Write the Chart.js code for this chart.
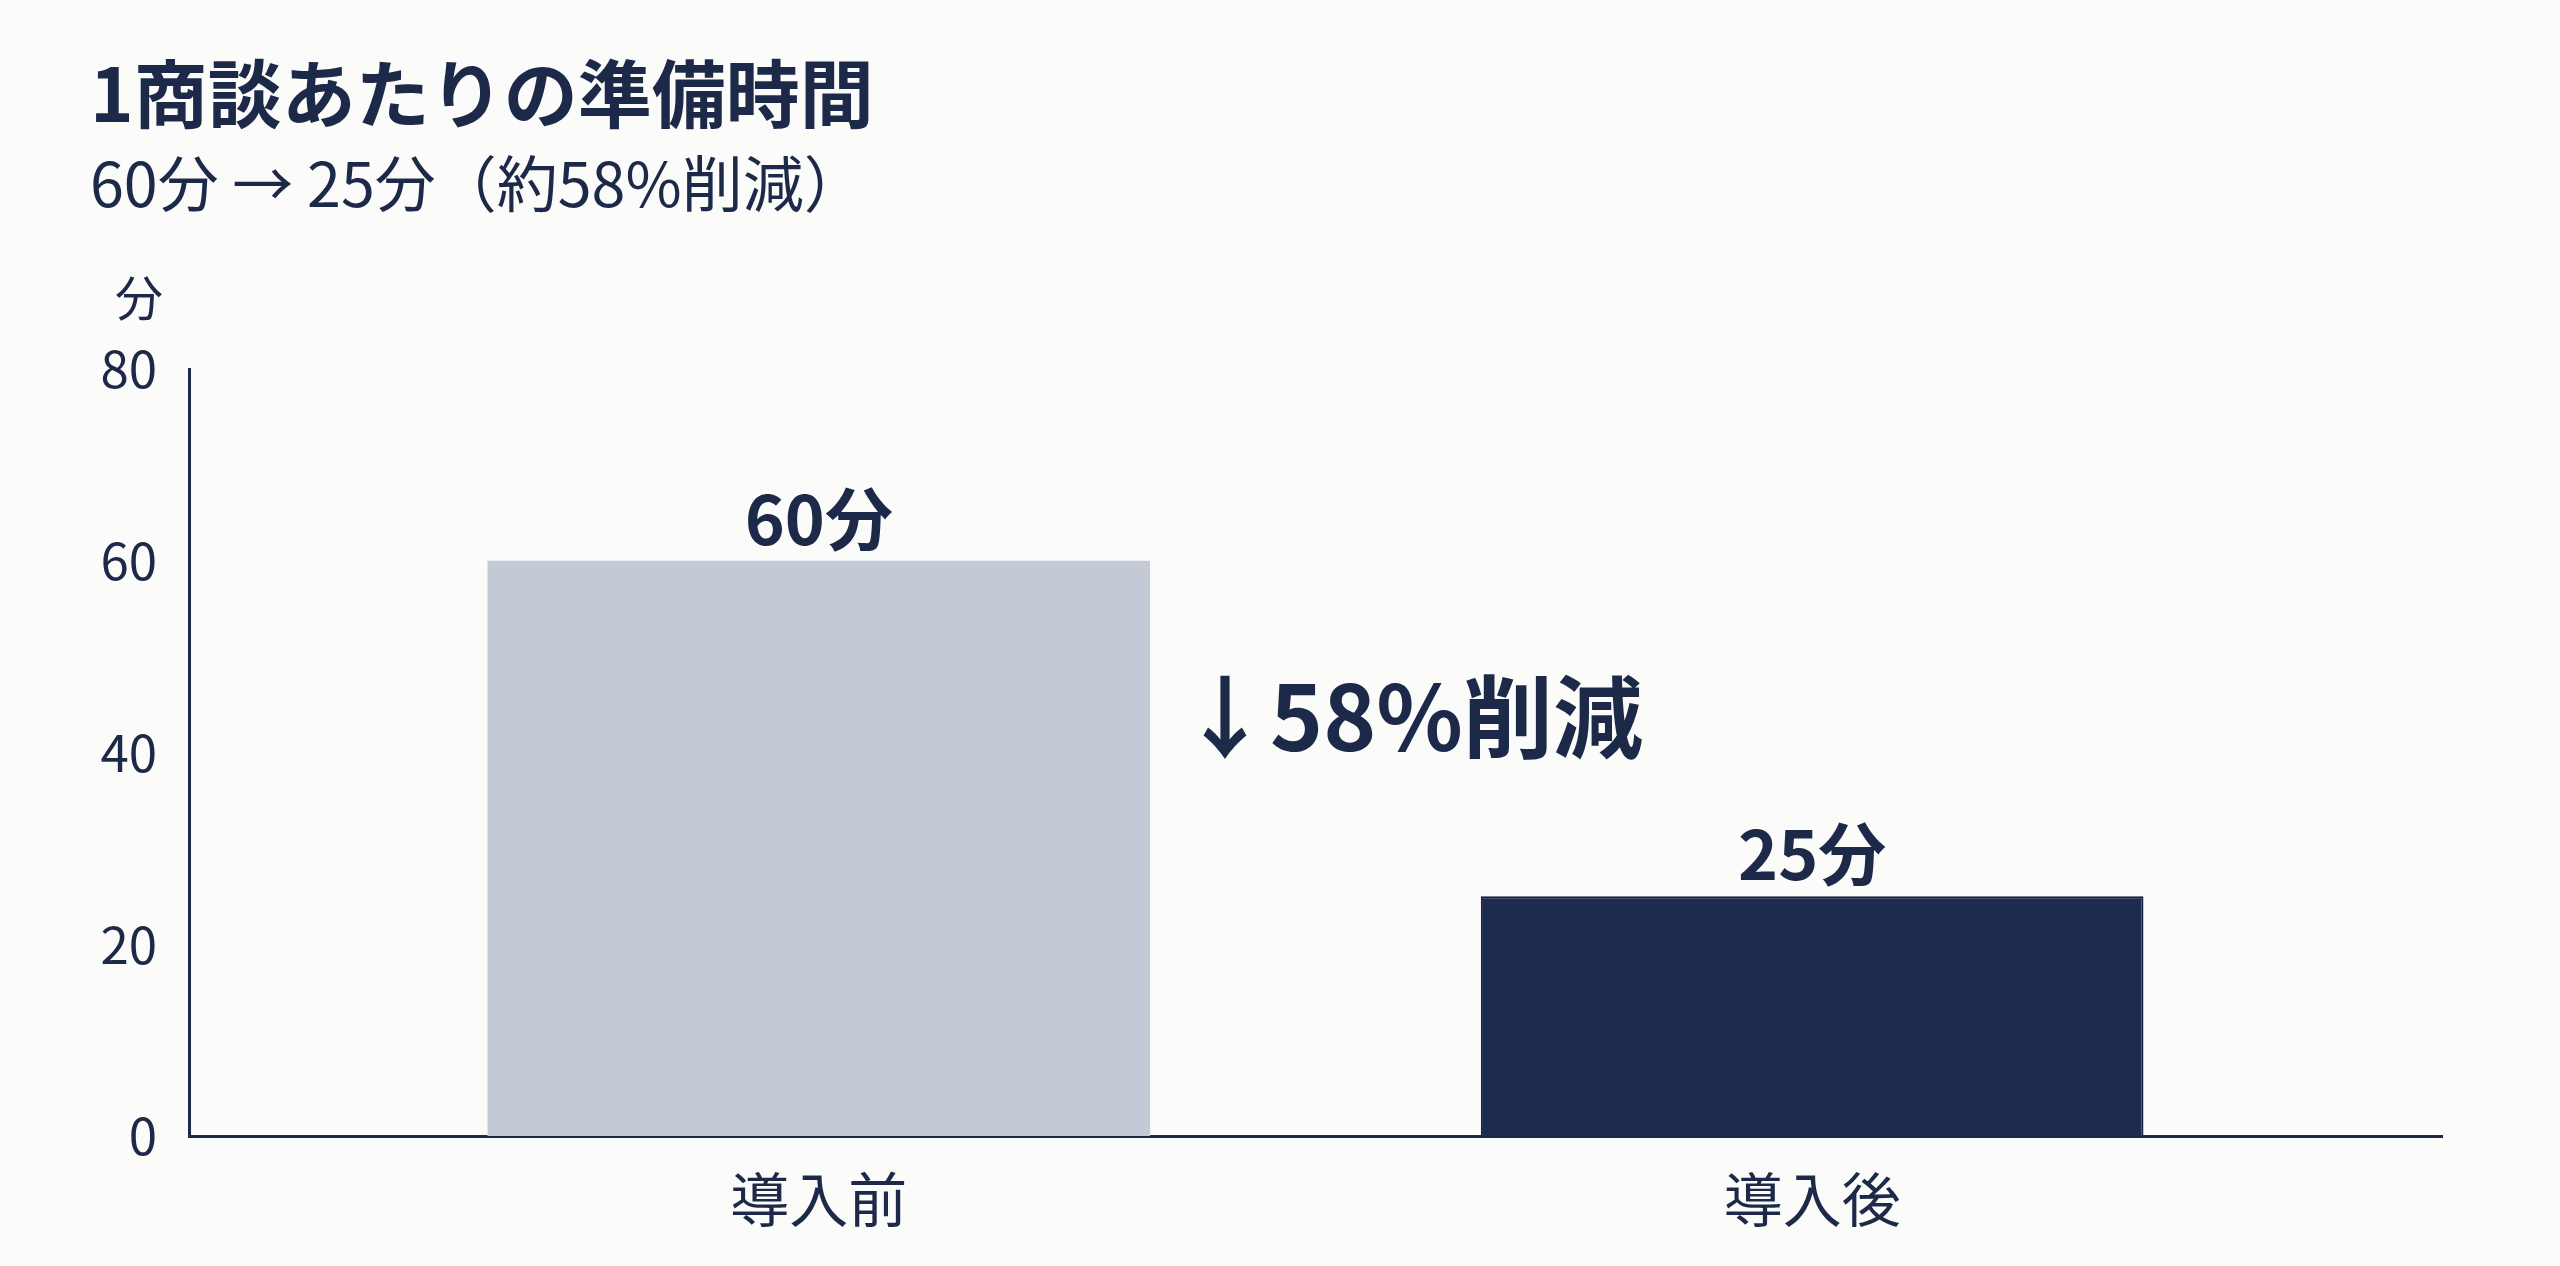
<!DOCTYPE html>
<html lang="ja">
<head>
<meta charset="utf-8">
<title>1商談あたりの準備時間</title>
<script src="https://cdn.jsdelivr.net/npm/chart.js@4.4.1/dist/chart.umd.min.js"></script>
<style>
  html, body { margin: 0; padding: 0; background: #fbfbfa; }
  #wrap { width: 2560px; height: 1266px; }
</style>
</head>
<body>
<div id="wrap"><canvas id="chart" width="2560" height="1266"></canvas></div>
<script>
const categories = ['導入前', '導入後'];
const minutes = [60, 25];
const yTicks = [0, 20, 40, 60, 80];
const titleText = '1商談あたりの準備時間';
const subtitleText = '60分 → 25分（約58%削減）';
const unitText = '分';
const reductionText = '↓58%削減';
const reductionLevel = 43.7;

const NAVY = '#1c2948';
const FONT = '"Noto Sans CJK JP", "Noto Sans", sans-serif';

const points = minutes.map((v, i) => ({ x: i, y: v }));

const textPlugin = {
  id: 'textPlugin',
  afterDatasetsDraw(chart) {
    const { ctx, scales } = chart;
    const meta = chart.getDatasetMeta(0);
    ctx.save();
    ctx.fillStyle = NAVY;

    // value labels above bars
    ctx.font = `bold 68px ${FONT}`;
    ctx.textAlign = 'center';
    ctx.textBaseline = 'bottom';
    meta.data.forEach((bar, i) => {
      ctx.fillText(minutes[i] + '分', bar.x, bar.y - 8);
    });

    // reduction note between the bars
    const first = meta.data[0];
    ctx.font = `bold 90px ${FONT}`;
    ctx.textAlign = 'left';
    ctx.textBaseline = 'middle';
    ctx.fillText(reductionText, first.x + first.width / 2 + 30, scales.y.getPixelForValue(reductionLevel));

    // title, subtitle, unit
    ctx.font = `bold 74px ${FONT}`;
    ctx.textBaseline = 'middle';
    ctx.fillText(titleText, 90, 94);
    ctx.font = `61px ${FONT}`;
    ctx.fillText(subtitleText, 90, 184);
    ctx.font = `48px ${FONT}`;
    ctx.textAlign = 'center';
    ctx.fillText(unitText, 139, 298);
    ctx.restore();
  }
};

new Chart(document.getElementById('chart'), {
  type: 'bar',
  data: {
    datasets: [{
      data: points,
      backgroundColor: ['#c4cad5', '#1d2b4f'],
      borderColor: ['#c4cad5', '#16213d'],
      borderWidth: [0, 2],
      categoryPercentage: 0.667,
      barPercentage: 1
    }]
  },
  options: {
    responsive: false,
    animation: false,
    devicePixelRatio: 1,
    layout: { padding: { top: 369, right: 118, bottom: 0, left: 0 } },
    plugins: {
      legend: { display: false },
      tooltip: { enabled: false }
    },
    scales: {
      x: {
        type: 'linear',
        offset: false,
        min: -0.634,
        max: 1.634,
        grid: { display: false },
        border: { display: true, color: NAVY, width: 3 },
        afterBuildTicks: scale => { scale.ticks = categories.map((c, i) => ({ value: i })); },
        ticks: {
          padding: 20,
          color: NAVY,
          font: { family: FONT, size: 59 },
          callback: v => categories[v]
        },
        afterFit: scale => { scale.height = 130; }
      },
      y: {
        min: 0,
        max: 80,
        grid: { display: false },
        border: { display: true, color: NAVY, width: 3 },
        afterBuildTicks: scale => { scale.ticks = yTicks.map(v => ({ value: v })); },
        ticks: {
          padding: 24,
          color: NAVY,
          font: { family: FONT, size: 51 }
        },
        afterFit: scale => { scale.width = 189; }
      }
    }
  },
  plugins: [textPlugin]
});
</script>
</body>
</html>
